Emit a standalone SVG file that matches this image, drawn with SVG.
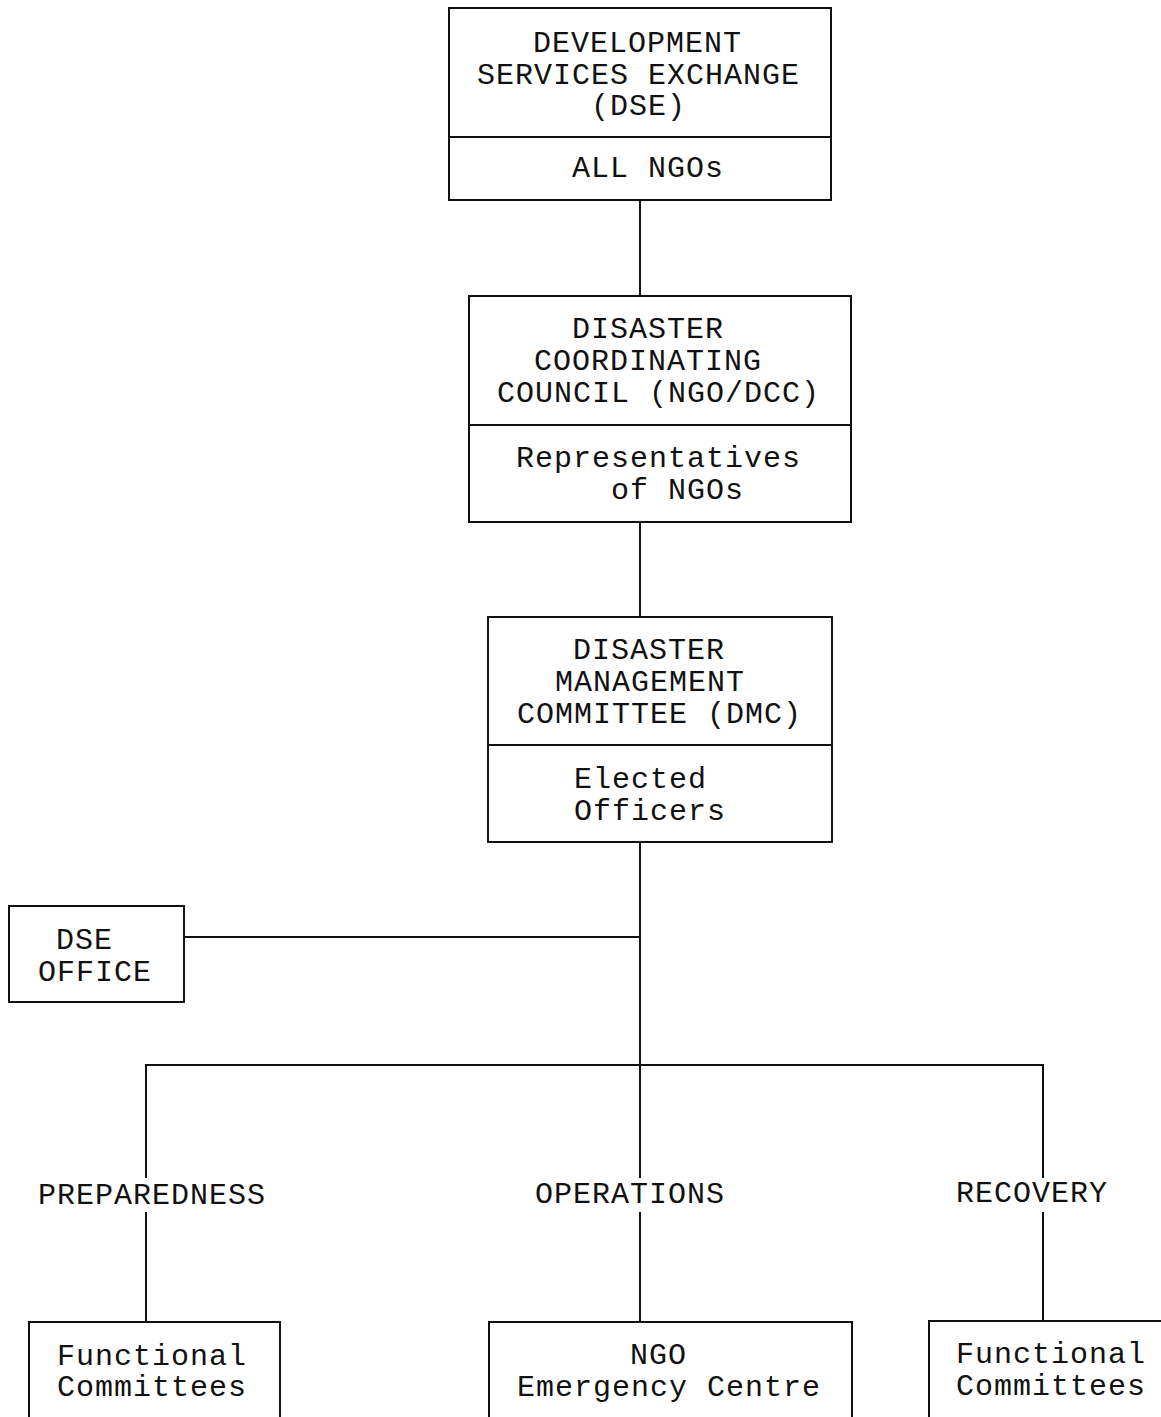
<svg xmlns="http://www.w3.org/2000/svg" width="1161" height="1417" viewBox="0 0 1161 1417">
<style>
.box{fill:#fff;stroke:#111;stroke-width:2}
.ln{stroke:#111;stroke-width:2;fill:none}
text{font-family:"Liberation Mono","Courier New",monospace;font-size:30px;letter-spacing:1px;fill:#111}
</style>
<rect width="1161" height="1417" fill="#fff"/>
<g id="connectors">
<line class="ln" x1="640" y1="200" x2="640" y2="296"/>
<line class="ln" x1="640" y1="522" x2="640" y2="617"/>
<line class="ln" x1="640" y1="842" x2="640" y2="1178"/>
<line class="ln" x1="640" y1="1212" x2="640" y2="1322"/>
<line class="ln" x1="184" y1="937" x2="640" y2="937"/>
<line class="ln" x1="146" y1="1065" x2="1043" y2="1065"/>
<line class="ln" x1="146" y1="1064" x2="146" y2="1178"/>
<line class="ln" x1="146" y1="1212" x2="146" y2="1322"/>
<line class="ln" x1="1043" y1="1064" x2="1043" y2="1178"/>
<line class="ln" x1="1043" y1="1212" x2="1043" y2="1322"/>
</g>
<g id="dse">
<rect class="box" x="449" y="8" width="382" height="192"/>
<line class="ln" x1="449" y1="137" x2="831" y2="137"/>
<text x="533" y="52">DEVELOPMENT</text>
<text x="477" y="84">SERVICES EXCHANGE</text>
<text x="591" y="115">(DSE)</text>
<text x="572" y="177">ALL NGOs</text>
</g>
<g id="dcc">
<rect class="box" x="469" y="296" width="382" height="226"/>
<line class="ln" x1="469" y1="425" x2="851" y2="425"/>
<text x="572" y="338">DISASTER</text>
<text x="534" y="370">COORDINATING</text>
<text x="497" y="402">COUNCIL (NGO/DCC)</text>
<text x="516" y="467">Representatives</text>
<text x="611" y="499">of NGOs</text>
</g>
<g id="dmc">
<rect class="box" x="488" y="617" width="344" height="225"/>
<line class="ln" x1="488" y1="745" x2="832" y2="745"/>
<text x="573" y="659">DISASTER</text>
<text x="555" y="691">MANAGEMENT</text>
<text x="517" y="723">COMMITTEE (DMC)</text>
<text x="574" y="788">Elected</text>
<text x="574" y="820">Officers</text>
</g>
<g id="dse-office">
<rect class="box" x="9" y="906" width="175" height="96"/>
<text x="56" y="949">DSE</text>
<text x="38" y="981">OFFICE</text>
</g>
<g id="labels">
<text x="38" y="1204">PREPAREDNESS</text>
<text x="535" y="1203">OPERATIONS</text>
<text x="956" y="1202">RECOVERY</text>
</g>
<g id="prep-committees">
<rect class="box" x="29" y="1322" width="251" height="110"/>
<text x="57" y="1365">Functional</text>
<text x="57" y="1396">Committees</text>
</g>
<g id="emergency-centre">
<rect class="box" x="489" y="1322" width="363" height="110"/>
<text x="630" y="1364">NGO</text>
<text x="517" y="1396">Emergency Centre</text>
</g>
<g id="recovery-committees">
<rect class="box" x="929" y="1321" width="240" height="110"/>
<text x="956" y="1363">Functional</text>
<text x="956" y="1395">Committees</text>
</g>
</svg>
